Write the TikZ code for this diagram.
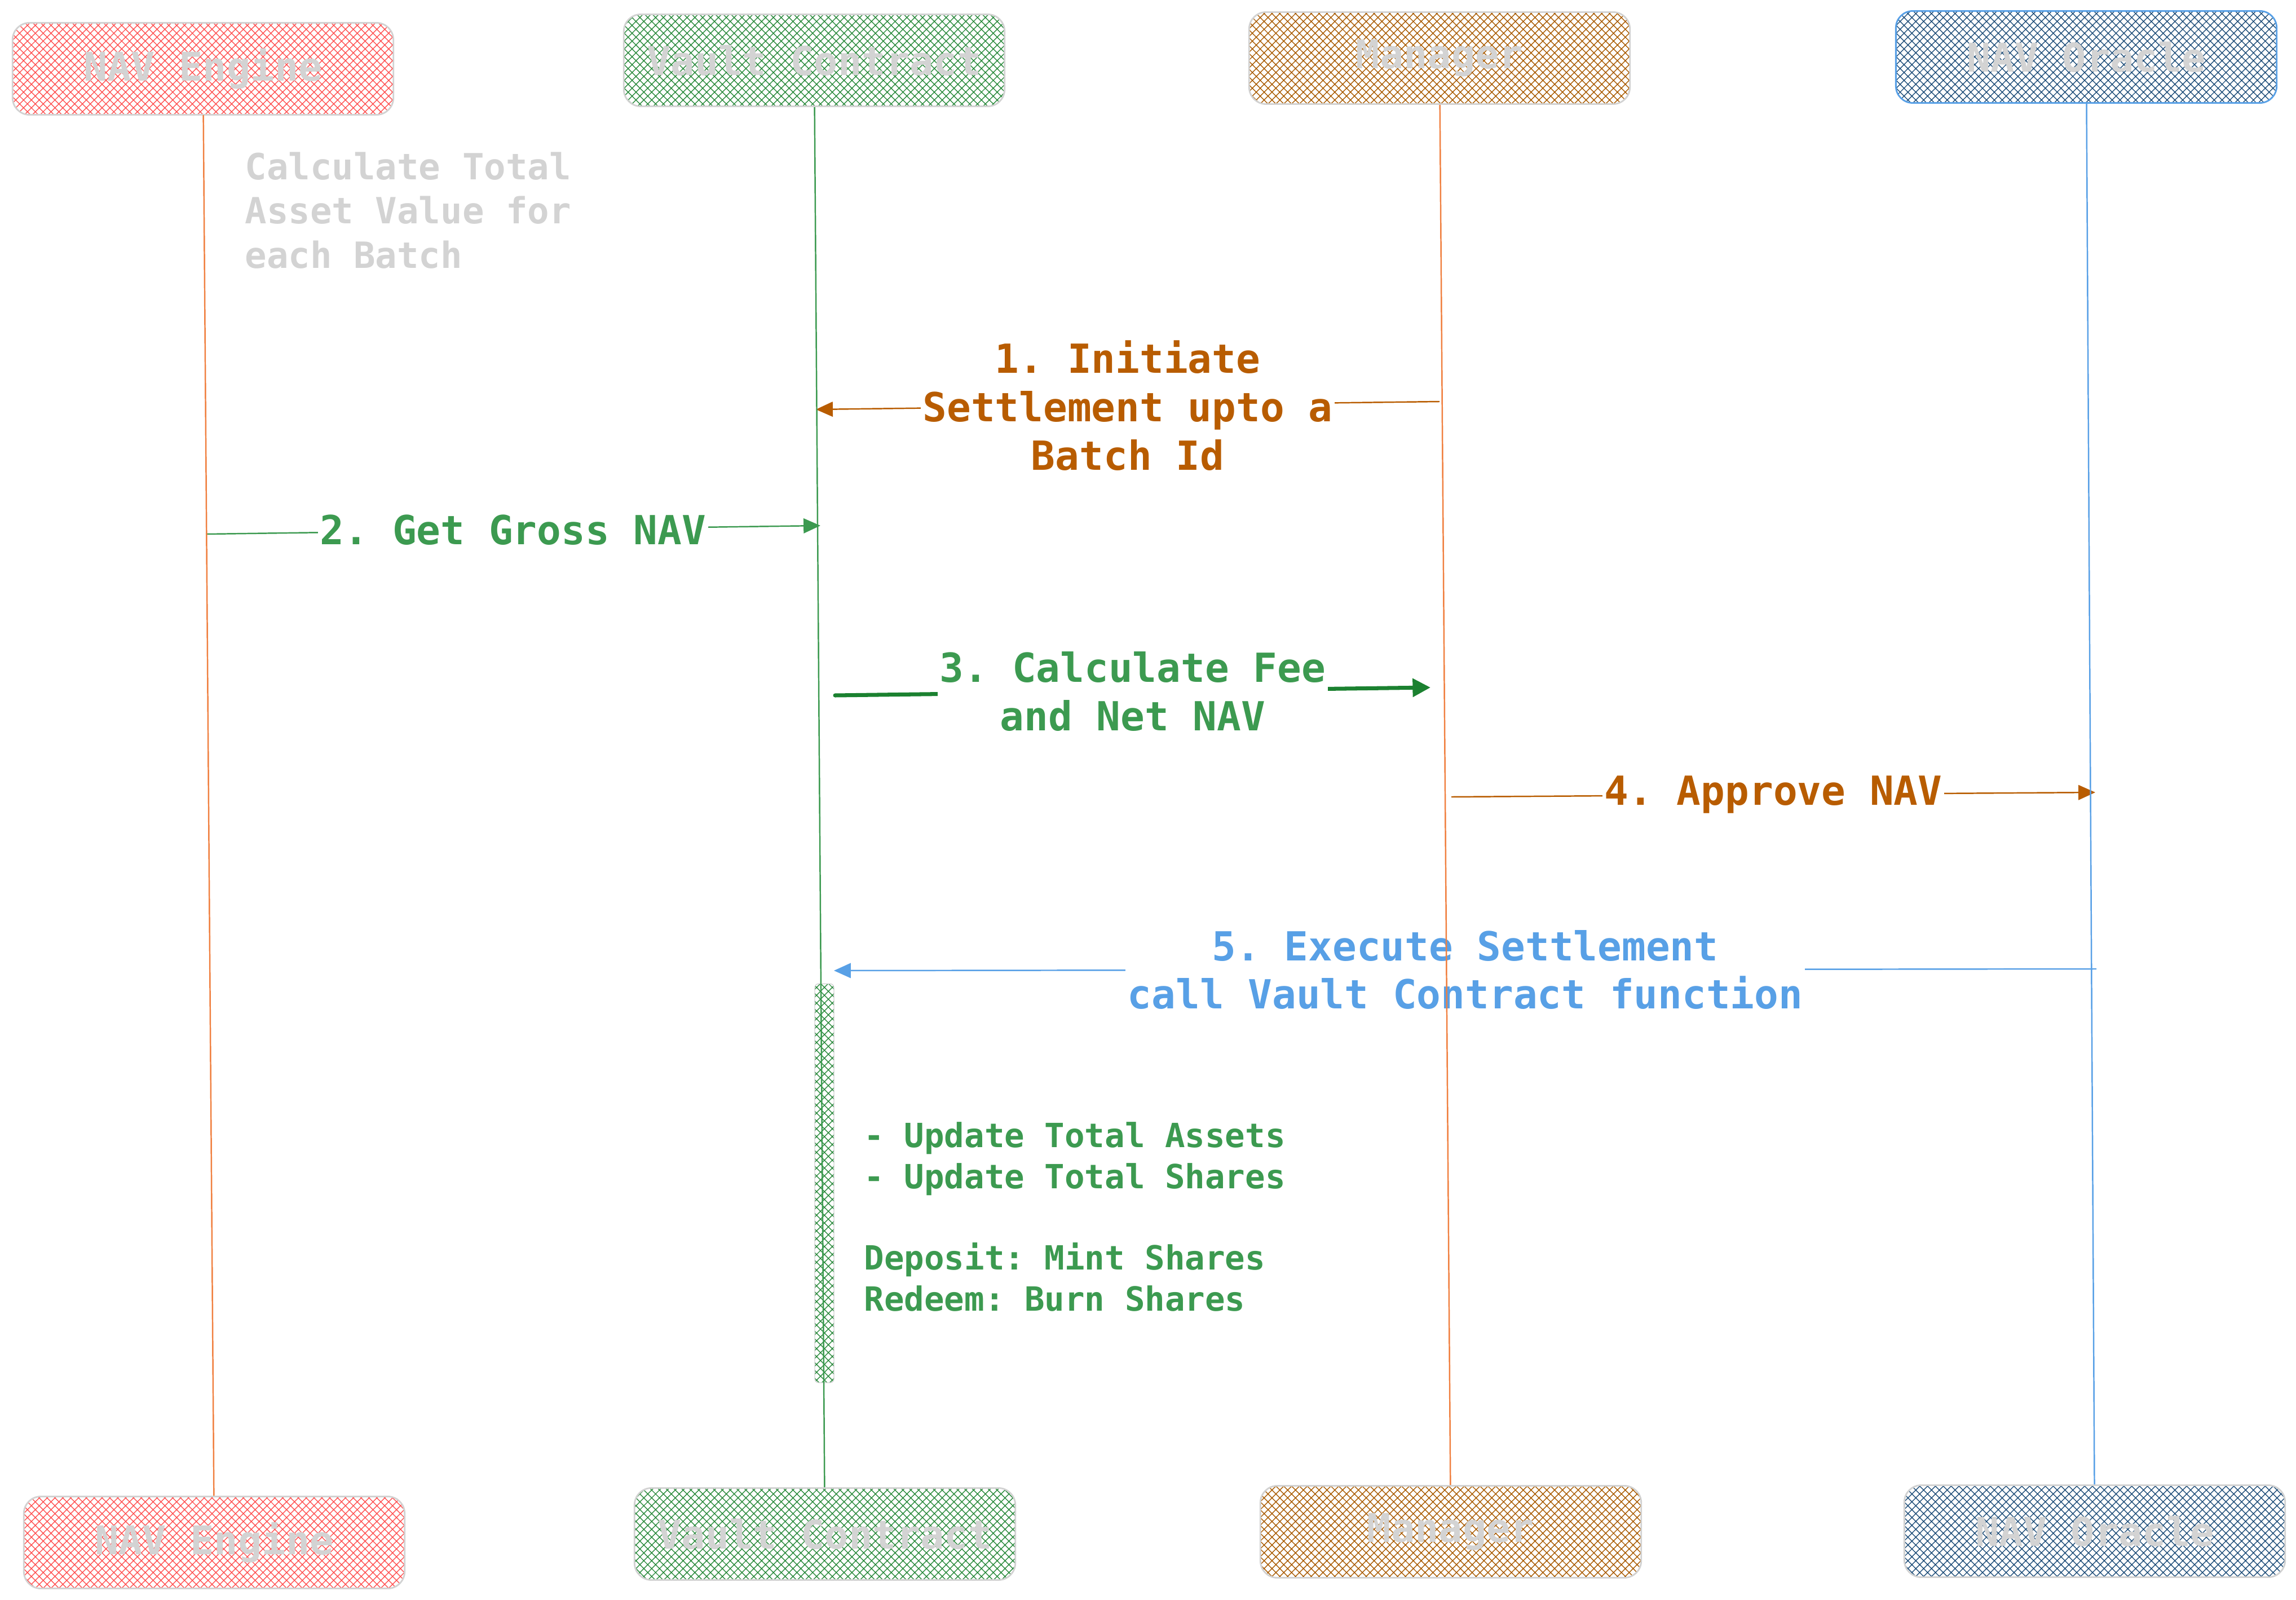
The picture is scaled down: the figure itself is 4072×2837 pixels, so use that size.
\documentclass[tikz,border=0pt]{standalone}
\usepackage{fontspec}
\newfontfamily\monofont{DejaVu Sans Mono}
\usetikzlibrary{arrows.meta,patterns.meta}

\definecolor{engred}{HTML}{FF5252}
\definecolor{vaultgreen}{HTML}{2A8A3C}
\definecolor{mgrbrown}{HTML}{A85A00}
\definecolor{oracleblue}{HTML}{1F4E79}
\definecolor{boxline}{HTML}{D2D2D2}
\definecolor{greytext}{HTML}{D3D3D3}
\definecolor{orangetext}{HTML}{B85C00}
\definecolor{greentext}{HTML}{3C9A50}
\definecolor{darkgreen}{HTML}{1B8130}
\definecolor{bluetext}{HTML}{58A0E6}
\definecolor{lifeorange}{HTML}{F08040}

\begin{document}
\frenchspacing
\begin{tikzpicture}[x=0.01cm, y=-0.01cm,
    actor/.style={draw=boxline, line width=0.8pt, rounded corners=0.3cm,
      minimum width=6.75cm, minimum height=1.63cm, inner sep=0pt,
      font=\monofont\bfseries\fontsize{20}{24}\selectfont, text=greytext},
    hatched/.style={pattern={Hatch[angle=45,distance=2.8pt,line width=0.4pt]},
      pattern color=#1},
    msg/.style={line width=0.7pt, -{Triangle[length=8.5pt,width=7.5pt]}},
    msglabel/.style={fill=white, inner xsep=1pt, inner ysep=0pt, align=center,
      font=\monofont\bfseries\fontsize{20.2}{24.4}\selectfont},
    lifeline/.style={line width=0.7pt}]
  \useasboundingbox (0,0) rectangle (4072,2837);

  % participants, top row
  \node[actor, hatched=engred] (eng-top) at (360,122) {NAV Engine};
  \node[actor, hatched=vaultgreen] (vault-top) at (1444,107) {Vault Contract};
  \node[actor, hatched=mgrbrown] (mgr-top) at (2553,103) {Manager};
  \node[actor, hatched=oracleblue, draw=bluetext] (orc-top) at (3700,101) {NAV Oracle};

  % participants, bottom row
  \node[actor, hatched=engred] (eng-bot) at (380,2735) {NAV Engine};
  \node[actor, hatched=vaultgreen] (vault-bot) at (1463,2720) {Vault Contract};
  \node[actor, hatched=mgrbrown] (mgr-bot) at (2573,2716) {Manager};
  \node[actor, hatched=oracleblue] (orc-bot) at (3715,2715) {NAV Oracle};

  \node[anchor=north west, inner sep=0pt, align=left, text=greytext,
    font=\monofont\bfseries\fontsize{18.2}{22.3}\selectfont]
    (calc-note) at (434,269) {Calculate Total\\Asset Value for\\each Batch};

  % activation on the vault
  \node[draw=boxline, hatched=vaultgreen, rounded corners=2pt, inner sep=0pt,
    minimum width=0.34cm, minimum height=7.07cm] (vault-act) at (1462,2098) {};

  \node[anchor=north west, inner sep=0pt, align=left, text=greentext,
    font=\monofont\bfseries\fontsize{16.8}{20.6}\selectfont]
    (settle-note) at (1532,1989)
    {- Update Total Assets\\- Update Total Shares\\[20.6pt]Deposit: Mint Shares\\Redeem: Burn Shares};

  % messages
  \coordinate (m1-from) at (2553,712);
  \coordinate (m1-to) at (1447,726);
  \coordinate (m2-from) at (365,947);
  \coordinate (m2-to) at (1455,932);
  \coordinate (m3-from) at (1481,1233);
  \coordinate (m3-to) at (2537,1219);
  \coordinate (m4-from) at (2574,1413);
  \coordinate (m4-to) at (3716,1405);
  \coordinate (m5-from) at (3718,1718);
  \coordinate (m5-to) at (1479,1721);

  \draw[msg, orangetext] (m1-from)
    -- node[msglabel, text=orangetext] {1. Initiate\\Settlement upto a\\Batch Id} (m1-to);
  \draw[msg, greentext] (m2-from)
    -- node[msglabel, text=greentext] {2. Get Gross NAV} (m2-to);
  \draw[msg, darkgreen, line width=2pt, line cap=round,
    -{Triangle[length=9pt,width=9pt]}] (m3-from)
    -- node[msglabel, text=greentext] {3. Calculate Fee\\and Net NAV} (m3-to);
  \draw[msg, orangetext] (m4-from)
    -- node[msglabel, text=orangetext] {4. Approve NAV} (m4-to);
  \draw[msg, bluetext] (m5-from)
    -- node[msglabel, text=bluetext] {5. Execute Settlement\\call Vault Contract function} (m5-to);

  % lifelines
  \draw[lifeline, lifeorange] (eng-top) -- (eng-bot);
  \draw[lifeline, greentext] (vault-top) -- (vault-bot);
  \draw[lifeline, lifeorange] (mgr-top) -- (mgr-bot);
  \draw[lifeline, bluetext] (orc-top) -- (orc-bot);
\end{tikzpicture}
\end{document}
